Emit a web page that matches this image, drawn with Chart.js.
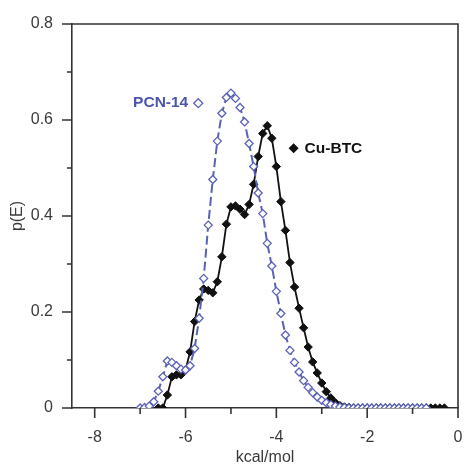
<!DOCTYPE html>
<html>
<head>
<meta charset="utf-8">
<script src="https://cdn.jsdelivr.net/npm/chart.js@4.4.1/dist/chart.umd.min.js"></script>
<style>
  html, body { margin: 0; padding: 0; background: #fff; }
  #wrap { width: 466px; height: 469px; }
</style>
</head>
<body>
<div id="wrap"><canvas id="dist" width="466" height="469"></canvas></div>
<script>
// energies (kcal/mol) and probabilities
const cuEnergy = [-6.6, -6.5, -6.4, -6.3, -6.2, -6.1, -6.0, -5.9, -5.8, -5.7,
  -5.6, -5.5, -5.4, -5.3, -5.2, -5.1, -5.0, -4.9, -4.8, -4.7,
  -4.6, -4.5, -4.4, -4.3, -4.2, -4.1, -4.0, -3.9, -3.8, -3.7,
  -3.6, -3.5, -3.4, -3.3, -3.2, -3.1, -3.0, -2.9, -2.8, -2.7,
  -2.6, -2.5, -2.4, -2.3, -2.2, -2.1, -2.0, -1.9, -1.8, -1.7,
  -1.6, -1.5, -1.4, -1.3, -1.2, -1.1, -1.0, -0.9, -0.8, -0.7,
  -0.6, -0.5, -0.4, -0.3];
const cuProb = [0.0, 0.0, 0.027, 0.065, 0.069, 0.069, 0.079, 0.117, 0.18, 0.225,
  0.248, 0.245, 0.24, 0.263, 0.315, 0.383, 0.419, 0.421, 0.414, 0.403,
  0.424, 0.466, 0.524, 0.572, 0.588, 0.562, 0.503, 0.43, 0.37, 0.303,
  0.252, 0.208, 0.167, 0.127, 0.096, 0.073, 0.052, 0.034, 0.021, 0.011,
  0.005, 0.002, 0.001, 0.0, 0.0, 0.0, 0.0, 0.0, 0.0, 0.0,
  0.0, 0.0, 0.0, 0.0, 0.0, 0.0, 0.0, 0.0, 0.0, 0.0,
  0.0, 0.0, 0.0, 0.0];

const pcnEnergy = [-7.0, -6.9, -6.8, -6.7, -6.6, -6.5, -6.4, -6.3, -6.2, -6.1,
  -6.0, -5.9, -5.8, -5.7, -5.6, -5.5, -5.4, -5.3, -5.2, -5.1,
  -5.0, -4.9, -4.8, -4.7, -4.6, -4.5, -4.4, -4.3, -4.2, -4.1,
  -4.0, -3.9, -3.8, -3.7, -3.6, -3.5, -3.4, -3.3, -3.2, -3.1,
  -3.0, -2.9, -2.8, -2.7, -2.6, -2.5, -2.4, -2.3, -2.2, -2.1,
  -2.0, -1.9, -1.8, -1.7, -1.6, -1.5, -1.4, -1.3, -1.2, -1.1,
  -1.0, -0.9, -0.8, -0.7];
const pcnProb = [0.0, 0.001, 0.004, 0.013, 0.035, 0.065, 0.098, 0.095, 0.088, 0.081,
  0.079, 0.088, 0.124, 0.187, 0.27, 0.381, 0.476, 0.556, 0.614, 0.647,
  0.656, 0.645, 0.626, 0.596, 0.551, 0.503, 0.448, 0.405, 0.343, 0.296,
  0.243, 0.197, 0.152, 0.12, 0.095, 0.075, 0.057, 0.043, 0.032, 0.023,
  0.016, 0.011, 0.007, 0.004, 0.002, 0.001, 0.0, 0.0, 0.0, 0.0,
  0.0, 0.0, 0.0, 0.0, 0.0, 0.0, 0.0, 0.0, 0.0, 0.0,
  0.0, 0.0, 0.0, 0.0];

const xMajor = [-8, -6, -4, -2, 0];
const xMinor = [-7, -5, -3, -1];
const yMajor = [0, 0.2, 0.4, 0.6, 0.8];
const yMinor = [0.1, 0.3, 0.5, 0.7];

const blue = '#5a62b6';
const axisCol = '#333';
const fontFam = '"Liberation Sans", Arial, sans-serif';

// box on top/right, ticks (major long, minor short) and the two series labels
const decorPlugin = {
  id: 'decor',
  afterDraw(chart) {
    const ctx = chart.ctx, a = chart.chartArea;
    const xs = chart.scales.x, ys = chart.scales.y;
    ctx.save();
    ctx.strokeStyle = axisCol;
    ctx.lineWidth = 1.6;
    ctx.beginPath();
    ctx.moveTo(a.left, a.top); ctx.lineTo(a.right, a.top); ctx.lineTo(a.right, a.bottom);
    xMajor.forEach(v => { const p = xs.getPixelForValue(v); ctx.moveTo(p, a.bottom); ctx.lineTo(p, a.bottom + 10); });
    xMinor.forEach(v => { const p = xs.getPixelForValue(v); ctx.moveTo(p, a.bottom); ctx.lineTo(p, a.bottom + 6); });
    yMajor.forEach(v => { const p = ys.getPixelForValue(v); ctx.moveTo(a.left, p); ctx.lineTo(a.left - 10, p); });
    yMinor.forEach(v => { const p = ys.getPixelForValue(v); ctx.moveTo(a.left, p); ctx.lineTo(a.left - 5, p); });
    ctx.stroke();

    ctx.font = 'bold 15.5px ' + fontFam;
    ctx.textBaseline = 'middle';
    // PCN-14 label with open diamond
    let px = xs.getPixelForValue(-5.72), py = ys.getPixelForValue(0.635);
    ctx.fillStyle = '#4b55ad';
    ctx.textAlign = 'right';
    ctx.fillText('PCN-14', px - 10, py);
    ctx.beginPath();
    ctx.moveTo(px, py - 4.5); ctx.lineTo(px + 4.5, py); ctx.lineTo(px, py + 4.5); ctx.lineTo(px - 4.5, py); ctx.closePath();
    ctx.strokeStyle = blue; ctx.lineWidth = 1.3; ctx.stroke();
    // Cu-BTC label with filled diamond
    px = xs.getPixelForValue(-3.62); py = ys.getPixelForValue(0.541);
    ctx.fillStyle = '#111';
    ctx.beginPath();
    ctx.moveTo(px, py - 5); ctx.lineTo(px + 5, py); ctx.lineTo(px, py + 5); ctx.lineTo(px - 5, py); ctx.closePath();
    ctx.fill();
    ctx.textAlign = 'left';
    ctx.fillText('Cu-BTC', px + 11, py);
    ctx.restore();
  }
};

const ctx = document.getElementById('dist').getContext('2d');
const myChart = new Chart(ctx, {
  type: 'line',
  data: {
    datasets: [
      {
        label: 'PCN-14',
        data: pcnEnergy.map((e, i) => ({ x: e, y: pcnProb[i] })),
        borderColor: blue,
        borderWidth: 2,
        borderDash: [9, 4],
        pointStyle: 'rectRot',
        pointRadius: 4,
        pointBorderWidth: 1.3,
        pointBorderColor: blue,
        pointBackgroundColor: '#fff',
        tension: 0,
        order: 0
      },
      {
        label: 'Cu-BTC',
        data: cuEnergy.map((e, i) => ({ x: e, y: cuProb[i] })),
        borderColor: '#111',
        borderWidth: 1.8,
        pointStyle: 'rectRot',
        pointRadius: 4.2,
        pointBorderWidth: 1,
        pointBorderColor: '#111',
        pointBackgroundColor: '#111',
        tension: 0,
        order: 1
      }
    ]
  },
  options: {
    responsive: false,
    animation: false,
    layout: { padding: { top: 24, right: 8, left: 0, bottom: 0 } },
    plugins: { legend: { display: false }, tooltip: { enabled: false } },
    scales: {
      x: {
        type: 'linear',
        min: -8.5,
        max: 0,
        afterBuildTicks: s => { s.ticks = xMajor.map(v => ({ value: v })); },
        afterFit: s => { s.height = 61; },
        grid: { display: true, drawOnChartArea: false, drawTicks: true, tickLength: 17, tickColor: 'rgba(0,0,0,0)' },
        border: { display: true, color: axisCol, width: 1.6 },
        ticks: {
          padding: 3,
          color: '#3a3a3a',
          font: { family: fontFam, size: 16 },
          callback: v => String(v)
        },
        title: {
          display: true,
          text: 'kcal/mol',
          color: '#3a3a3a',
          font: { family: fontFam, size: 16 },
          padding: { top: 0, bottom: 1.5 }
        }
      },
      y: {
        type: 'linear',
        min: 0,
        max: 0.8,
        afterBuildTicks: s => { s.ticks = yMajor.map(v => ({ value: v })); },
        afterFit: s => { s.width = 72; },
        grid: { display: true, drawOnChartArea: false, drawTicks: true, tickLength: 16, tickColor: 'rgba(0,0,0,0)' },
        border: { display: true, color: axisCol, width: 1.6 },
        ticks: {
          padding: 3,
          color: '#3a3a3a',
          font: { family: fontFam, size: 16 },
          callback: v => String(Math.round(v * 10) / 10)
        },
        title: {
          display: true,
          text: 'p(E)',
          color: '#3a3a3a',
          font: { family: fontFam, size: 16 },
          padding: { top: 8, bottom: 0 }
        }
      }
    }
  },
  plugins: [decorPlugin]
});
</script>
</body>
</html>
